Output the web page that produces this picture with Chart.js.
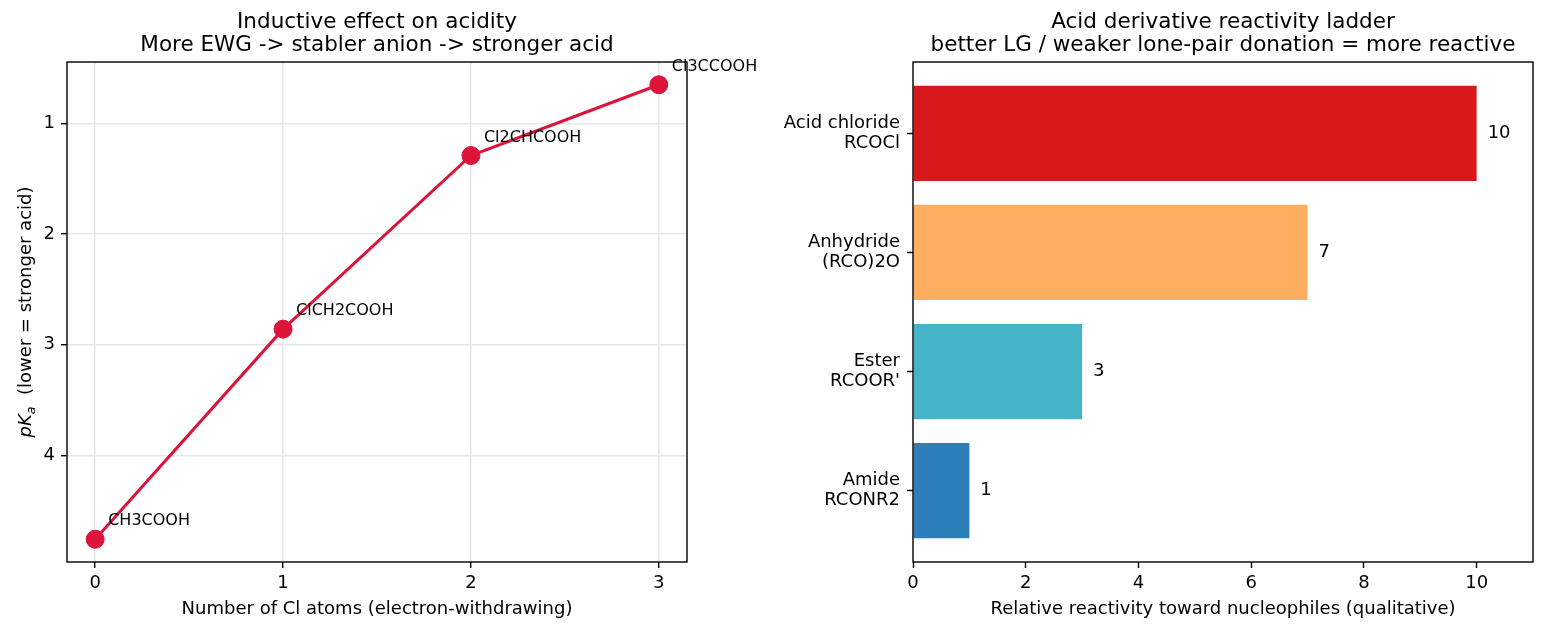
<!DOCTYPE html>
<html>
<head>
<meta charset="utf-8">
<script src="https://cdn.jsdelivr.net/npm/chart.js@4.4.1/dist/chart.umd.min.js"></script>
<style>
html, body { margin: 0; padding: 0; background: #fff; }
#wrap { position: relative; width: 1545px; height: 630px; }
.box { position: absolute; top: 0; height: 630px; }
</style>
</head>
<body>
<div id="wrap">
  <div class="box" style="left:0;width:775px"><canvas id="acidity"></canvas></div>
  <div class="box" style="left:775px;width:770px"><canvas id="ladder"></canvas></div>
</div>
<script>
// left panel: chloroacetic acids
const clAtoms = [0, 1, 2, 3];
const pKa = [4.76, 2.86, 1.29, 0.65];
const acidNames = ['CH3COOH', 'ClCH2COOH', 'Cl2CHCOOH', 'Cl3CCOOH'];
const pKaTicks = [1, 2, 3, 4];

// right panel: acid derivatives, bottom to top
const derivatives = ['Amide', 'Ester', 'Anhydride', 'Acid chloride'];
const formulas = ['RCONR2', "RCOOR'", '(RCO)2O', 'RCOCl'];
const reactivity = [1, 3, 7, 10];
const reactivityTicks = [0, 2, 4, 6, 8, 10];
const barColors = ['#2c7fb8', '#44b4c6', '#fdae61', '#d7191c'];

Chart.defaults.font.family = '"DejaVu Sans", sans-serif';
Chart.defaults.color = '#000';

const frame = {
    id: 'frame',
    afterDatasetsDraw(chart) {
        const { ctx, chartArea: a } = chart;
        ctx.save();
        ctx.strokeStyle = '#000';
        ctx.lineWidth = 1.4;
        ctx.strokeRect(a.left, a.top, a.right - a.left, a.bottom - a.top);
        ctx.restore();
    }
};

const pointLabels = {
    id: 'pointLabels',
    afterDraw(chart) {
        const ctx = chart.ctx;
        const pts = chart.getDatasetMeta(0).data;
        ctx.save();
        ctx.font = '16px "DejaVu Sans"';
        ctx.fillStyle = '#000';
        ctx.textAlign = 'left';
        ctx.textBaseline = 'alphabetic';
        pts.forEach((p, i) => ctx.fillText(acidNames[i], p.x + 13, p.y - 14));
        ctx.restore();
    }
};

// y title with italic pK and subscript a
const pkaTitle = {
    id: 'pkaTitle',
    afterDraw(chart) {
        const ctx = chart.ctx;
        const a = chart.chartArea;
        const parts = [
            ['italic 18px "DejaVu Sans"', 'pK', 0],
            ['italic 12.6px "DejaVu Sans"', 'a', 3.5],
            ['18px "DejaVu Sans"', '  (lower = stronger acid)', 0]
        ];
        ctx.save();
        let total = 0;
        const widths = parts.map(p => { ctx.font = p[0]; const w = ctx.measureText(p[1]).width; total += w; return w; });
        ctx.translate(31, (a.top + a.bottom) / 2);
        ctx.rotate(-Math.PI / 2);
        ctx.fillStyle = '#000';
        ctx.textAlign = 'left';
        ctx.textBaseline = 'alphabetic';
        let x = -total / 2;
        parts.forEach((p, i) => { ctx.font = p[0]; ctx.fillText(p[1], x, p[2]); x += widths[i]; });
        ctx.restore();
    }
};

const barLabels = {
    id: 'barLabels',
    afterDraw(chart) {
        const ctx = chart.ctx;
        const bars = chart.getDatasetMeta(0).data;
        ctx.save();
        ctx.font = '18px "DejaVu Sans"';
        ctx.fillStyle = '#000';
        ctx.textAlign = 'left';
        ctx.textBaseline = 'middle';
        bars.forEach((b, i) => ctx.fillText(String(reactivity[i]), b.x + 11, b.y));
        ctx.restore();
    }
};

const tickGrid = { color: '#e7e7e7', lineWidth: 1.4, tickColor: '#000', tickLength: 6, tickWidth: 1.4 };

new Chart(document.getElementById('acidity'), {
    type: 'line',
    data: {
        datasets: [{
            data: clAtoms.map((c, i) => ({ x: c, y: pKa[i] })),
            borderColor: '#dc143c',
            backgroundColor: '#dc143c',
            borderWidth: 3,
            pointRadius: 9,
            pointHoverRadius: 9,
            pointBorderWidth: 1,
            pointBackgroundColor: '#dc143c',
            tension: 0
        }]
    },
    options: {
        responsive: true, maintainAspectRatio: false, animation: false,
        layout: { padding: { left: 0, right: 88, top: 0, bottom: 0 } },
        plugins: {
            legend: { display: false }, tooltip: { enabled: false },
            title: {
                display: true, fullSize: false, color: '#000',
                text: ['Inductive effect on acidity', 'More EWG -> stabler anion -> stronger acid'],
                font: { size: 21.5, weight: 'normal', lineHeight: 1.07 },
                padding: { top: 11, bottom: 5 }
            }
        },
        scales: {
            x: {
                type: 'linear', min: -0.15, max: 3.15,
                afterBuildTicks: s => { s.ticks = clAtoms.map(v => ({ value: v })); },
                afterFit: s => { s.height = 68; },
                grid: tickGrid, border: { display: false },
                ticks: { font: { size: 18 }, color: '#000', padding: 5, maxRotation: 0 },
                title: { display: true, text: 'Number of Cl atoms (electron-withdrawing)', font: { size: 18 }, color: '#000', padding: { top: 0, bottom: 10 } }
            },
            y: {
                type: 'linear', reverse: true, min: 0.4445, max: 4.9655,
                afterBuildTicks: s => { s.ticks = pKaTicks.map(v => ({ value: v })); },
                afterFit: s => { s.width = 67; },
                grid: tickGrid, border: { display: false },
                ticks: { font: { size: 18 }, color: '#000', padding: 6 }
            }
        }
    },
    plugins: [frame, pointLabels, pkaTitle]
});

new Chart(document.getElementById('ladder'), {
    type: 'bar',
    data: {
        datasets: [{
            data: reactivity.map((v, i) => ({ x: v, y: i })),
            backgroundColor: barColors,
            borderWidth: 0,
            categoryPercentage: 0.8,
            barPercentage: 1
        }]
    },
    options: {
        indexAxis: 'y',
        responsive: true, maintainAspectRatio: false, animation: false,
        layout: { padding: { left: 0, right: 12, top: 0, bottom: 0 } },
        plugins: {
            legend: { display: false }, tooltip: { enabled: false },
            title: {
                display: true, fullSize: false, color: '#000',
                text: ['Acid derivative reactivity ladder', 'better LG / weaker lone-pair donation = more reactive'],
                font: { size: 21.5, weight: 'normal', lineHeight: 1.07 },
                padding: { top: 11, bottom: 5 }
            }
        },
        scales: {
            x: {
                type: 'linear', min: 0, max: 11,
                afterBuildTicks: s => { s.ticks = reactivityTicks.map(v => ({ value: v })); },
                afterFit: s => { s.height = 68; },
                grid: { drawOnChartArea: false, tickColor: '#000', tickLength: 6, tickWidth: 1.4 },
                border: { display: false },
                ticks: { font: { size: 18 }, color: '#000', padding: 5, maxRotation: 0 },
                title: { display: true, text: 'Relative reactivity toward nucleophiles (qualitative)', font: { size: 18 }, color: '#000', padding: { top: 0, bottom: 10 } }
            },
            y: {
                type: 'linear', min: -0.6, max: 3.6, offset: false,
                afterBuildTicks: s => { s.ticks = derivatives.map((d, i) => ({ value: i })); },
                afterFit: s => { s.width = 138; },
                grid: { drawOnChartArea: false, offset: false, tickColor: '#000', tickLength: 6, tickWidth: 1.4 },
                border: { display: false },
                ticks: { font: { size: 18, lineHeight: 1.12 }, color: '#000', padding: 7,
                         callback: v => [derivatives[v], formulas[v]] }
            }
        }
    },
    plugins: [frame, barLabels]
});
</script>
</body>
</html>
